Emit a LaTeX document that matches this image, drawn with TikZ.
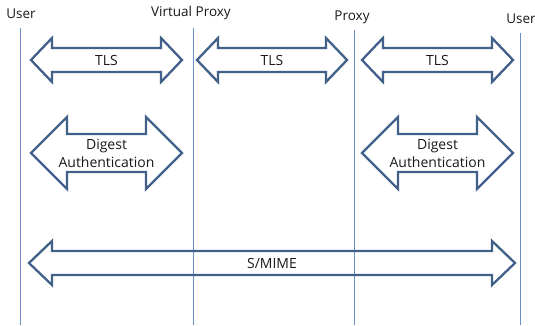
\documentclass[tikz,border=0pt]{standalone}
\usepackage{fontspec}
\setmainfont{Open Sans}
\definecolor{lifeblue}{RGB}{108,143,198}
\definecolor{arrowblue}{RGB}{65,96,138}

% block arrow with two heads: name, left tip, right tip, y, half shaft, half head, head length, text
\newcommand{\dblarrow}[8]{%
  \draw[arrowline] (#2,#4) -- (#2+#7,#4-#6) -- (#2+#7,#4-#5) -- (#3-#7,#4-#5)
    -- (#3-#7,#4-#6) -- (#3,#4) -- (#3-#7,#4+#6) -- (#3-#7,#4+#5)
    -- (#2+#7,#4+#5) -- (#2+#7,#4+#6) -- cycle;
  \node[arrowtext] (#1) at ({(#2+#3)/2},#4) {#8};}

\begin{document}
\begin{tikzpicture}[x=1pt, y=-1pt,
  role/.style = {font=\fontsize{13.5}{15}\selectfont, text=black!90, inner sep=0pt},
  arrowtext/.style = {font=\fontsize{14}{18}\selectfont, text=black!90,
    align=center, inner sep=0pt},
  lifeline/.style = {draw=lifeblue, line width=1pt},
  arrowline/.style = {draw=arrowblue, line width=2.3pt, line join=miter}]
  \useasboundingbox (0,0) rectangle (535,325);

  % parties
  \node[role] (user1) at (21,14) {User};
  \node[role] (vproxy) at (191,13) {Virtual Proxy};
  \node[role] (proxy) at (352,17) {Proxy};
  \node[role] (user2) at (521,19) {User};

  % lifelines
  \coordinate (user1top) at (20,28);   \coordinate (user1end) at (20,325);
  \coordinate (vproxytop) at (193,28); \coordinate (vproxyend) at (193,325);
  \coordinate (proxytop) at (354,30);  \coordinate (proxyend) at (354,325);
  \coordinate (user2top) at (520,33);  \coordinate (user2end) at (520,325);
  \draw[lifeline] (user1top) -- (user1end);
  \draw[lifeline] (vproxytop) -- (vproxyend);
  \draw[lifeline] (proxytop) -- (proxyend);
  \draw[lifeline] (user2top) -- (user2end);

  % hop by hop
  \dblarrow{tlsa}{31}{182}{60}{12}{22}{21}{TLS}
  \dblarrow{tlsb}{197}{347}{60}{12}{22}{21}{TLS}
  \dblarrow{tlsc}{362}{513}{60}{12}{22}{21}{TLS}
  \dblarrow{digesta}{31}{182}{153}{19}{36}{36}{Digest\\Authentication}
  \dblarrow{digestb}{362}{513}{153}{19}{36}{36}{Digest\\Authentication}

  % end to end
  \dblarrow{smime}{29}{515}{263}{12}{22}{23}{S/MIME}
\end{tikzpicture}
\end{document}
